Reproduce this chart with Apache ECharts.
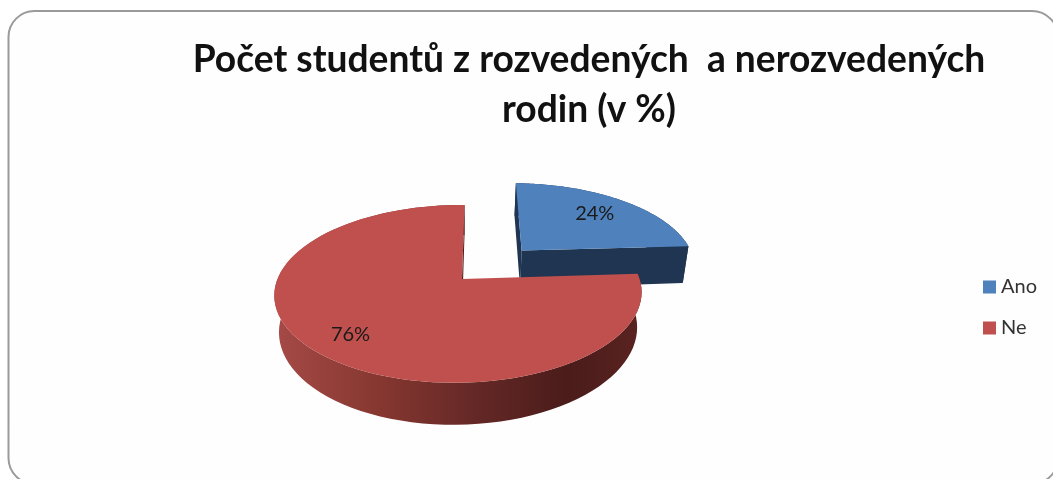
<!DOCTYPE html>
<html>
<head>
<meta charset="utf-8">
<style>
html,body{margin:0;padding:0;background:#fff;}
#c{width:1053px;height:479px;filter:blur(0.5px);}
</style>
<script src="https://cdn.jsdelivr.net/npm/echarts@6/dist/echarts.min.js"></script>
</head>
<body>
<div id="c"></div>
<script>
var titleLines = ['Počet studentů z rozvedených  a nerozvedených', 'rodin (v %)'];
var categories = ['Ano', 'Ne'];
var values = [24, 76];
var labels = ['24%', '76%'];

var topColors = ['#4f81bd', '#c0504d'];
var explodeX = [0.345, 0];
var explodeY = [0.35, 0];
var sliceRadius = [1.02, 1];
var depthScale = [1.15, 1];
var labelRadius = [0.72, 0.79];

var view = {cx: 462, cy: 279, a: 86.4, b: 181, s: 3, k: 0.167, m: 0.019, depth: 35, shrink: 0.975};

function project(X, Y, lower, i) {
  var w = 1 + view.k * Y + view.m * X;
  var x = view.cx + (view.b * X + view.s * Y) / w;
  var y = view.cy - view.a * Y / w;
  if (lower) {
    x = view.cx + (x - view.cx) * view.shrink;
    y += view.depth * depthScale[i] / w;
  }
  return [x, y];
}

function sliceAngles(i) {
  var total = values.reduce(function (p, c) { return p + c; }, 0);
  var before = 0;
  for (var j = 0; j < i; j++) before += values[j];
  return [before / total * Math.PI * 2, (before + values[i]) / total * Math.PI * 2];
}

function arcPoints(i, lower) {
  var ang = sliceAngles(i), pts = [], n = 90, r = sliceRadius[i];
  for (var t = 0; t <= n; t++) {
    var th = ang[0] + (ang[1] - ang[0]) * t / n;
    pts.push(project(explodeX[i] + r * Math.sin(th), explodeY[i] + r * Math.cos(th), lower, i));
  }
  return pts;
}

var sideFills = [
  '#1f3552',
  {type: 'linear', x: 0, y: 0, x2: 1, y2: 0, colorStops: [
    {offset: 0, color: '#a64a47'},
    {offset: 0.3, color: '#84362f'},
    {offset: 0.55, color: '#642826'},
    {offset: 0.8, color: '#4a1c1a'},
    {offset: 1, color: '#5a2321'}
  ]}
];

function renderSlice(params, api) {
  var i = params.seriesIndex;
  var top = arcPoints(i, false), low = arcPoints(i, true);
  var apexTop = project(explodeX[i], explodeY[i], false, i);
  var apexLow = project(explodeX[i], explodeY[i], true, i);
  var ang = sliceAngles(i), mid = (ang[0] + ang[1]) / 2, r = labelRadius[i];
  var lp = project(explodeX[i] + r * Math.sin(mid), explodeY[i] + r * Math.cos(mid), false, i);
  var last = top.length - 1;
  return {
    type: 'group',
    children: [
      {type: 'polygon', shape: {points: top.concat(low.slice().reverse())}, style: {fill: sideFills[i]}},
      {type: 'polygon', shape: {points: [apexTop, top[0], low[0], apexLow]}, style: {fill: '#1f3552'}, invisible: i !== 0},
      {type: 'polygon', shape: {points: [apexTop, top[last], low[last], apexLow]}, style: {fill: i === 0 ? '#1f3552' : '#4a1c1a'}},
      {type: 'polygon', shape: {points: [apexTop].concat(top)}, style: {fill: topColors[i]}},
      {type: 'text', x: lp[0], y: lp[1], style: {
        text: labels[i], fill: '#1a1a1a', font: '20px Lato, "Open Sans", sans-serif', align: 'center', verticalAlign: 'middle'
      }}
    ]
  };
}

var chart = echarts.init(document.getElementById('c'), null, {renderer: 'canvas'});
chart.setOption({
  animation: false,
  backgroundColor: '#ffffff',
  graphic: [{
    type: 'rect', silent: true, z: -1,
    shape: {x: 8.5, y: 11, width: 1049.5, height: 473, r: 26},
    style: {fill: '#fefefe', stroke: '#9a9a9a', lineWidth: 2}
  }],
  title: {
    text: titleLines.join('\n'),
    left: 584, top: 30, textAlign: 'center',
    textStyle: {fontFamily: 'Lato, "Open Sans", sans-serif', fontWeight: 'bold', fontSize: 37.2, lineHeight: 50, color: '#111111'}
  },
  legend: {
    orient: 'vertical', left: 978, top: 272, itemWidth: 13, itemHeight: 13, itemGap: 21,
    icon: 'rect', data: categories,
    textStyle: {fontFamily: 'Lato, "Open Sans", sans-serif', fontSize: 20, color: '#333333'}
  },
  series: categories.map(function (name, i) {
    return {
      type: 'custom', name: name, coordinateSystem: 'none',
      itemStyle: {color: topColors[i]},
      data: [[values[i]]], renderItem: renderSlice
    };
  })
});
</script>
</body>
</html>
